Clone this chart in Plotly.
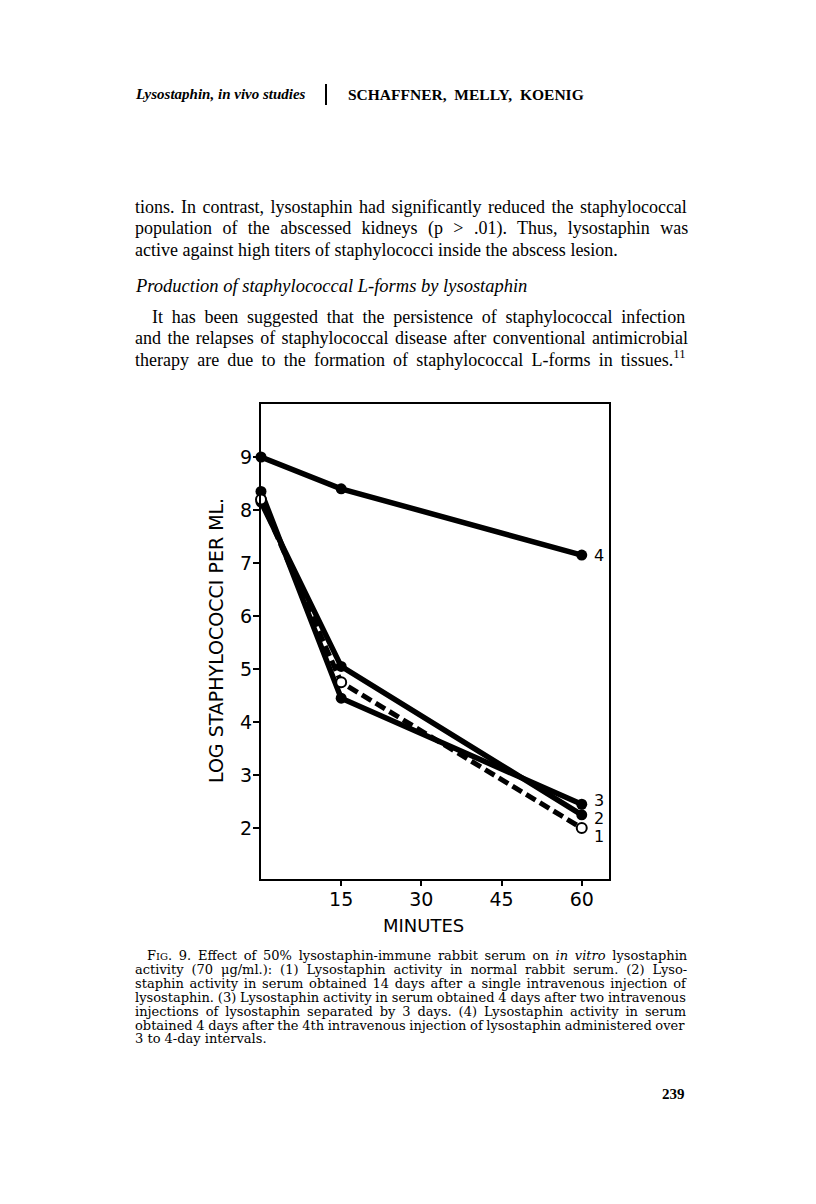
import plotly.graph_objects as go

# ---- data ----
minutes = [0, 15, 60]
series_names = ["1", "2", "3", "4"]
s1 = [8.2, 4.75, 2.0]    # normal rabbit serum (dashed, open circles)
s2 = [8.15, 5.05, 2.25]
s3 = [8.35, 4.45, 2.45]
s4 = [9.0, 8.4, 7.15]
label_y = {"1": 1.85, "2": 2.19, "3": 2.53, "4": 7.15}
x_ticks = [15, 30, 45, 60]
y_ticks = [2, 3, 4, 5, 6, 7, 8, 9]

W, H = 816, 1204
L, R, T, B = 261, 609, 404, 879

def px(x):
    return (x - L) / (R - L)

def py(y):
    return (B - y) / (B - T)

fig = go.Figure()
solid = dict(color="black", width=5.5)
for vals in (s3, s2, s4):
    fig.add_trace(go.Scatter(x=minutes, y=vals, mode="lines+markers",
                             line=solid, marker=dict(size=11, color="black"),
                             cliponaxis=False, showlegend=False))
fig.add_trace(go.Scatter(x=minutes, y=s1, mode="lines+markers",
                         line=dict(color="black", width=5, dash="11px,5px"),
                         marker=dict(size=10, color="white",
                                     line=dict(color="black", width=2)),
                         cliponaxis=False, showlegend=False))

ann = []
for name in series_names:
    ann.append(dict(x=60, y=label_y[name], xref="x", yref="y", text=name,
                    showarrow=False, xanchor="left", yanchor="middle", xshift=10,
                    font=dict(family="DejaVu Sans", size=16, color="black")))

def add_text(x, y, text, size, family, xanchor="left", angle=0):
    ann.append(dict(x=px(x), y=py(y), xref="paper", yref="paper", text=text,
                    xanchor=xanchor, yanchor="middle", textangle=angle,
                    showarrow=False, font=dict(family=family, size=size, color="black")))

# axis titles
add_text(423, 925, "MINUTES", 18, "DejaVu Sans", xanchor="center")
add_text(216, 641, "LOG STAPHYLOCOCCI PER ML.", 19, "DejaVu Sans", xanchor="center", angle=-90)

serif = "Liberation Serif"
# header
add_text(133, 94, "<b><i>Lysostaphin, in vivo studies</i></b>", 15, serif)
add_text(346, 94, "<b>SCHAFFNER,  MELLY,  KOENIG</b>", 15.5, serif)

def ws(t, s):
    return "<span style='word-spacing:%.1fpx'>%s</span>" % (s, t) if s else t

body = [
    (133, 207, "tions. In contrast, lysostaphin had significantly reduced the staphylococcal", 2.0),
    (133, 229, "population of the abscessed kidneys (p &gt; .01). Thus, lysostaphin was", 5.9),
    (133, 250, "active against high titers of staphylococci inside the abscess lesion.", 0),
    (150, 317, "It has been suggested that the persistence of staphylococcal infection", 4.25),
    (133, 338, "and the relapses of staphylococcal disease after conventional antimicrobial", 1.9),
    (133, 359, "therapy are due to the formation of staphylococcal L-forms in tissues.<sup>11</sup>", 3.7),
]
for x0, y0, t, s in body:
    add_text(x0, y0, ws(t, s), 18, serif)
add_text(133, 286, "<i>Production of staphylococcal L-forms by lysostaphin</i>", 18.5, serif)

cap_font = "DejaVu Serif"
caption = [
    (145, 955, "F<span style='font-size:10px'>IG</span>. 9. Effect of 50% lysostaphin-immune rabbit serum on <i>in vitro</i> lysostaphin", 2.6),
    (133, 969, "activity (70 μg/ml.): (1) Lysostaphin activity in normal rabbit serum. (2) Lyso-", 3.8),
    (133, 983, "staphin activity in serum obtained 14 days after a single intravenous injection of", 1.6),
    (133, 997, "lysostaphin. (3) Lysostaphin activity in serum obtained 4 days after two intravenous", -0.3),
    (133, 1011, "injections of lysostaphin separated by 3 days. (4) Lysostaphin activity in serum", 2.8),
    (133, 1025, "obtained 4 days after the 4th intravenous injection of lysostaphin administered over", -0.5),
    (133, 1038, "3 to 4-day intervals.", 0),
]
for x0, y0, t, s in caption:
    add_text(x0, y0, ws(t, s), 13, cap_font)

add_text(687, 1094, "<b>239</b>", 15, serif, xanchor="right")

fig.update_layout(
    width=W, height=H,
    margin=dict(l=L, r=W - R, t=T, b=H - B),
    paper_bgcolor="white", plot_bgcolor="white",
    annotations=ann,
    shapes=[dict(type="line", xref="paper", yref="paper",
                 x0=px(326), x1=px(326), y0=py(84), y1=py(105),
                 line=dict(color="black", width=2))],
    xaxis=dict(range=[0, 65.1], tickvals=x_ticks, ticks="outside", ticklen=5,
               tickwidth=2, tickcolor="black", showgrid=False, zeroline=False,
               showline=True, linecolor="black", linewidth=2, mirror=True,
               ticklabelstandoff=-3,
               tickfont=dict(family="DejaVu Sans", size=19, color="black")),
    yaxis=dict(range=[1.04, 10.0], tickvals=y_ticks, ticks="outside", ticklen=6,
               tickwidth=2, tickcolor="black", showgrid=False, zeroline=False,
               showline=True, linecolor="black", linewidth=2, mirror=True,
               ticklabelstandoff=-3,
               tickfont=dict(family="DejaVu Sans", size=19, color="black")),
)

fig.write_html("out.html", config={"displayModeBar": False},
               post_script="document.body.style.margin='0px';")
